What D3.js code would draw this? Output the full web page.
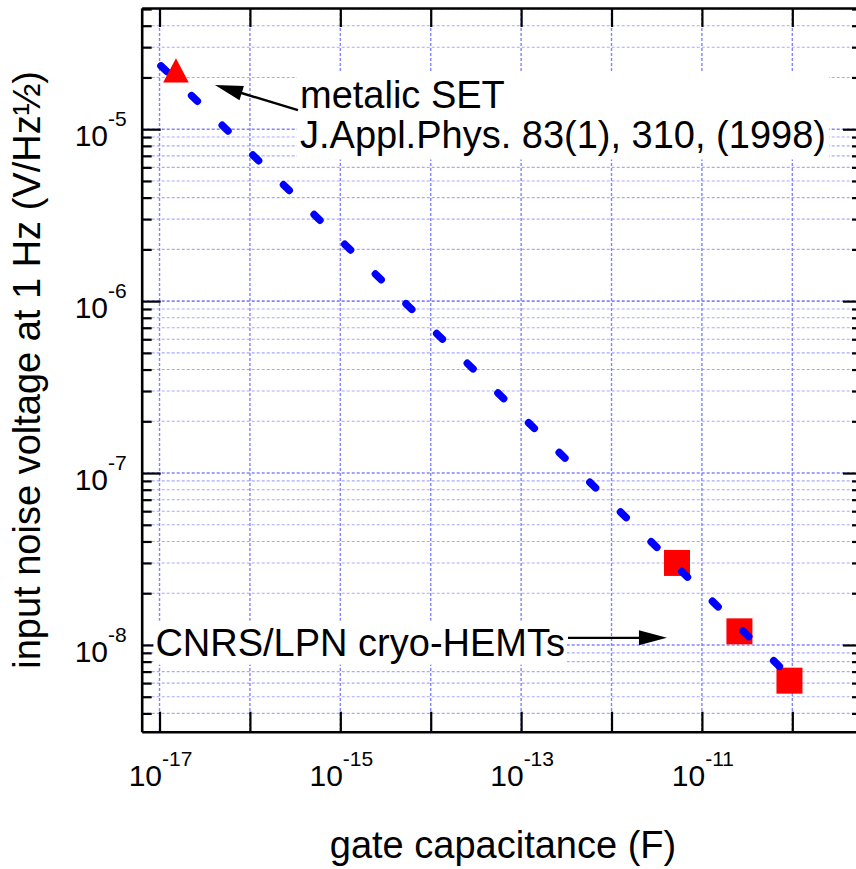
<!DOCTYPE html>
<html>
<head>
<meta charset="utf-8">
<script src="https://cdn.jsdelivr.net/npm/d3@7"></script>
<style>
  body { margin: 0; background: #fff; }
  svg { display: block; font-family: "Liberation Sans", Arial, Helvetica, sans-serif; }
</style>
</head>
<body>
<div id="chart"></div>
<script>
// ---- data ----
const setC = [1.52e-17];                      // metallic SET (F)
const setV = [2.2e-5];                        // V/Hz^1/2
const hemtC = [5.3e-12, 2.6e-11, 9.3e-11];    // cryo-HEMTs (F)
const hemtV = [3.0e-8, 1.2e-8, 6.2e-9];
const fitC = [1e-17, 9e-11];                  // dashed C^-1/2 trend
const fitV = [2.38e-5, 6.7e-9];

const xTickExp = [-17, -16, -15, -14, -13, -12, -11, -10];
const xLabelExp = [-17, -15, -13, -11];
const yLabelExp = [-8, -7, -6, -5];

const setNote = ["metalic SET", "J.Appl.Phys. 83(1), 310, (1998)"];
const hemtNote = "CNRS/LPN cryo-HEMTs";

// annotation anchors, in data units
const setNoteAt = [3.58e-16, 1.32e-5];
const hemtNoteAt = [9.0e-18, 8.67e-9];
const setArrow = [[3.4e-16, 1.29e-5], [4.1e-17, 1.81e-5]];
const hemtArrow = [[3.3e-13, 1.1e-8], [4.1e-12, 1.1e-8]];

// ---- layout ----
const width = 856, height = 869;
const plot = { left: 141.7, right: 862, top: 8, bottom: 731.7 };
const gridMajor = "#8383ff", gridMinor = "#a9a9ff";

const svg = d3.select("#chart")
  .append("svg")
  .attr("width", width)
  .attr("height", height);

const x = d3.scaleLog().domain([6.35e-18, 5.9e-10]).range([plot.left, plot.right]);
const y = d3.scaleLog().domain([3.13e-9, 5.07e-5]).range([plot.bottom, plot.top]);

const xMajor = xTickExp.map(e => Math.pow(10, e));
const yMajor = yLabelExp.map(e => Math.pow(10, e));
const yAll = y.ticks();
const yMinor = yAll.filter(v => !yMajor.some(m => Math.abs(m - v) / m < 1e-6));

// grid
const grid = svg.append("g").attr("class", "grid");
grid.selectAll(".hgrid")
  .data(yAll)
  .enter()
  .append("line")
  .attr("x1", plot.left).attr("x2", plot.right)
  .attr("y1", d => y(d)).attr("y2", d => y(d))
  .style("stroke", d => yMajor.some(m => Math.abs(m - d) / m < 1e-6) ? gridMajor : gridMinor)
  .style("stroke-width", d => yMajor.some(m => Math.abs(m - d) / m < 1e-6) ? 1.6 : 1.1)
  .style("stroke-dasharray", "3,2");

grid.selectAll(".vgrid")
  .data(xMajor)
  .enter()
  .append("line")
  .attr("x1", d => x(d)).attr("x2", d => x(d))
  .attr("y1", plot.top).attr("y2", plot.bottom)
  .style("stroke", gridMajor)
  .style("stroke-width", 1.4)
  .style("stroke-dasharray", "3,2");

// axes, ticks pointing inward
function styleAxis(g, keepDomain) {
  g.selectAll(".tick text").remove();
  g.selectAll(".tick line").style("stroke", "#000").style("stroke-width", 2.2);
  if (keepDomain) {
    g.select(".domain").style("stroke", "#000").style("stroke-width", 2.6);
  } else {
    g.select(".domain").remove();
  }
}

svg.append("g")
  .attr("transform", `translate(${plot.left},0)`)
  .call(d3.axisLeft(y).tickValues(yMinor).tickSize(-10).tickFormat(""))
  .call(g => styleAxis(g, false));
svg.append("g")
  .attr("transform", `translate(${plot.left},0)`)
  .call(d3.axisLeft(y).tickValues(yMajor).tickSize(-19).tickSizeOuter(0).tickFormat(""))
  .call(g => styleAxis(g, true));
svg.append("g")
  .attr("transform", `translate(${plot.right},0)`)
  .call(d3.axisRight(y).tickValues(yMinor).tickSize(-10).tickFormat(""))
  .call(g => styleAxis(g, false));
svg.append("g")
  .attr("transform", `translate(${plot.right},0)`)
  .call(d3.axisRight(y).tickValues(yMajor).tickSize(-19).tickSizeOuter(0).tickFormat(""))
  .call(g => styleAxis(g, true));
svg.append("g")
  .attr("transform", `translate(0,${plot.bottom})`)
  .call(d3.axisBottom(x).tickValues(xMajor).tickSize(-20).tickSizeOuter(0).tickFormat(""))
  .call(g => styleAxis(g, true));
svg.append("g")
  .attr("transform", `translate(0,${plot.top})`)
  .call(d3.axisTop(x).tickValues(xMajor).tickSize(-19).tickSizeOuter(0).tickFormat(""))
  .call(g => styleAxis(g, true));

// tick labels as 10^n
function powerLabel(sel, exp) {
  sel.append("tspan").style("font-size", "30px").text("10");
  sel.append("tspan").style("font-size", "21px").attr("dy", -20).text(exp);
}

xLabelExp.forEach(e => {
  svg.append("text")
    .attr("x", x(Math.pow(10, e)) + 1)
    .attr("y", plot.bottom + 54)
    .attr("text-anchor", "middle")
    .call(t => powerLabel(t, e));
});

yLabelExp.forEach(e => {
  svg.append("text")
    .attr("x", plot.left - 15)
    .attr("y", y(Math.pow(10, e)) + 16.7)
    .attr("text-anchor", "end")
    .call(t => powerLabel(t, e));
});

// axis titles
svg.append("text")
  .attr("x", 503)
  .attr("y", 858)
  .attr("text-anchor", "middle")
  .style("font-size", "38px")
  .text("gate capacitance (F)");

svg.append("text")
  .attr("transform", `translate(40, ${(plot.top + plot.bottom) / 2}) rotate(-90)`)
  .attr("text-anchor", "middle")
  .style("font-size", "38px")
  .text("input noise voltage at 1 Hz (V/Hz\u00BD)");

// annotation text on white boxes
function noteBox(lines, at, padX, padY) {
  const g = svg.append("g");
  const t = g.append("text")
    .attr("x", x(at[0]))
    .attr("y", y(at[1]))
    .style("font-size", "38px");
  lines.forEach((line, i) => {
    t.append("tspan")
      .attr("x", x(at[0]))
      .attr("dy", i === 0 ? 0 : 40)
      .text(line);
  });
  const bb = t.node().getBBox();
  g.insert("rect", "text")
    .attr("x", bb.x - padX)
    .attr("y", bb.y - padY)
    .attr("width", bb.width + 2 * padX)
    .attr("height", bb.height + 2 * padY)
    .style("fill", "#fff");
}

noteBox(setNote, setNoteAt, 3, 3);
noteBox([hemtNote], hemtNoteAt, 2, 1);

function drawArrow(pair) {
  const [x0, y0] = [x(pair[0][0]), y(pair[0][1])];
  const [x1, y1] = [x(pair[1][0]), y(pair[1][1])];
  const len = Math.hypot(x1 - x0, y1 - y0);
  const ux = (x1 - x0) / len, uy = (y1 - y0) / len;
  const headLen = 28, headHalf = 7.5;
  const bx = x1 - ux * headLen, by = y1 - uy * headLen;
  svg.append("line")
    .attr("x1", x0).attr("y1", y0)
    .attr("x2", bx + ux * 2).attr("y2", by + uy * 2)
    .style("stroke", "#000")
    .style("stroke-width", 2.4);
  svg.append("path")
    .attr("d", `M${x1},${y1}L${bx - uy * headHalf},${by + ux * headHalf}L${bx + uy * headHalf},${by - ux * headHalf}Z`)
    .style("fill", "#000");
}

drawArrow(setArrow);
drawArrow(hemtArrow);

// data marks
svg.selectAll(".hemt")
  .data(d3.zip(hemtC, hemtV))
  .enter()
  .append("path")
  .attr("class", "hemt")
  .attr("transform", d => `translate(${x(d[0])},${y(d[1])})`)
  .attr("d", d3.symbol(d3.symbolSquare, 26 * 26))
  .style("fill", "#ff0000");

const line = d3.line()
  .x(d => x(d[0]))
  .y(d => y(d[1]));

svg.append("path")
  .datum(d3.zip(fitC, fitV))
  .attr("d", line)
  .style("fill", "none")
  .style("stroke", "#0000ff")
  .style("stroke-width", 7.5)
  .style("stroke-linecap", "round")
  .style("stroke-dasharray", "8 34.7")
  .style("stroke-dashoffset", -2);

svg.selectAll(".set")
  .data(d3.zip(setC, setV))
  .enter()
  .append("path")
  .attr("class", "set")
  .attr("transform", d => `translate(${x(d[0])},${y(d[1])})`)
  .attr("d", "M0,-12.2L12.8,12.2L-12.8,12.2Z")
  .style("fill", "#ff0000");
</script>
</body>
</html>
